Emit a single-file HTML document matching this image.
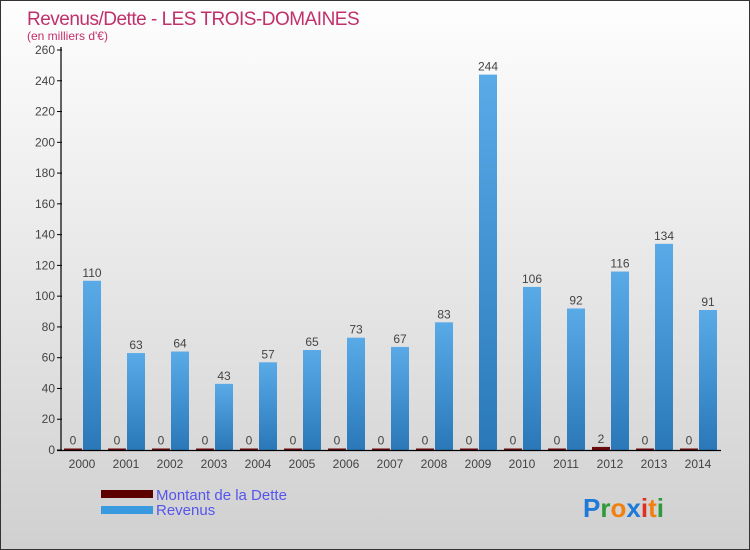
<!DOCTYPE html>
<html><head><meta charset="utf-8"><style>
html,body{margin:0;padding:0}
body{width:750px;height:550px;overflow:hidden;font-family:"Liberation Sans","DejaVu Sans",sans-serif}
#wrap{position:relative;width:748px;height:548px;border:1px solid #333;background:linear-gradient(#fefefe,#d0d0d0)}
</style></head><body>
<div id="wrap">
<svg id="chart" width="748" height="548" style="position:absolute;left:0;top:0">
<text x="26" y="24" font-size="19" fill="#c0306a" style="letter-spacing:-0.5px">Revenus/Dette - LES TROIS-DOMAINES</text>
<text x="26" y="39" font-size="12" fill="#c0306a">(en milliers d'€)</text>
<g id="grid"></g><g id="bars"></g><g id="axes"></g>
<g>
<rect x="100" y="489" width="52" height="8" fill="#5c0000"/>
<text x="155" y="499" font-size="15" fill="#5555ee">Montant de la Dette</text>
<rect x="100" y="505" width="52" height="8" fill="#3a9ae0"/>
<text x="155" y="514" font-size="15" fill="#5555ee">Revenus</text>
</g>
<g font-size="26" font-weight="bold">
<text x="582" y="516"><tspan fill="#1e7ad8">P</tspan><tspan fill="#2e9a3a">r</tspan><tspan fill="#f08010">o</tspan><tspan fill="#1e7ad8">x</tspan><tspan fill="#e03020">i</tspan><tspan fill="#f08010">t</tspan><tspan fill="#2e9a3a">i</tspan></text>
</g>
</svg>
</div>
<script>
const years=["2000","2001","2002","2003","2004","2005","2006","2007","2008","2009","2010","2011","2012","2013","2014"];
const debt=[0,0,0,0,0,0,0,0,0,0,0,0,2,0,0];
const revenue=[110,63,64,43,57,65,73,67,83,244,106,92,116,134,91];
const yTicks=[0,20,40,60,80,100,120,140,160,180,200,220,240,260];
const NS="http://www.w3.org/2000/svg";
const y0=449,yTop=49,yMax=260;
function yScale(v){return y0-(v/yMax)*(y0-yTop);}
function xCenter(i){return 81+44*i;}
function mk(tag,attrs,parent){const e=document.createElementNS(NS,tag);for(const k in attrs)e.setAttribute(k,attrs[k]);parent.appendChild(e);return e;}
const axes=document.getElementById('axes'),bars=document.getElementById('bars');
let a=mk('line',{x1:60,y1:yTop-3,x2:60,y2:y0,stroke:'#000','stroke-width':1.2},axes);


let b=mk('line',{x1:56,y1:y0+0.5,x2:720,y2:y0+0.5,stroke:'#000','stroke-width':1.2},axes);


yTicks.forEach(t=>{const y=yScale(t);
const tk=mk('line',{x1:56,y1:y,x2:61,y2:y,stroke:'#000'},axes);


const tx=mk('text',{x:54,y:y+4,'font-size':12,'text-anchor':'end',fill:'#444'},axes);tx.textContent=t;

});
years.forEach((yr,i)=>{const c=xCenter(i);
const tx=mk('text',{x:c,y:467,'font-size':12,'text-anchor':'middle',fill:'#444'},axes);tx.textContent=yr;


const dh=Math.max(y0-yScale(debt[i]),1.5);
const d=mk('rect',{x:c-18,y:y0-dh,width:18,height:dh,fill:'#6a0a0a'},bars);


const dl=mk('text',{x:c-9,y:y0-dh-4,'font-size':12,'text-anchor':'middle',fill:'#444'},bars);dl.textContent=debt[i];


const ry=yScale(revenue[i]);
const r=mk('rect',{x:c+1,y:ry,width:18,height:y0-ry,fill:'url(#rg)'},bars);


const rl=mk('text',{x:c+10,y:ry-4,'font-size':12,'text-anchor':'middle',fill:'#444'},bars);rl.textContent=revenue[i];

});
const defs=mk('defs',{},document.getElementById('chart'));
const g=mk('linearGradient',{id:'rg',x1:0,y1:0,x2:0,y2:1},defs);
mk('stop',{offset:'0','stop-color':'#5aaae8'},g);mk('stop',{offset:'1','stop-color':'#2a78b8'},g);
</script>
</body></html>
